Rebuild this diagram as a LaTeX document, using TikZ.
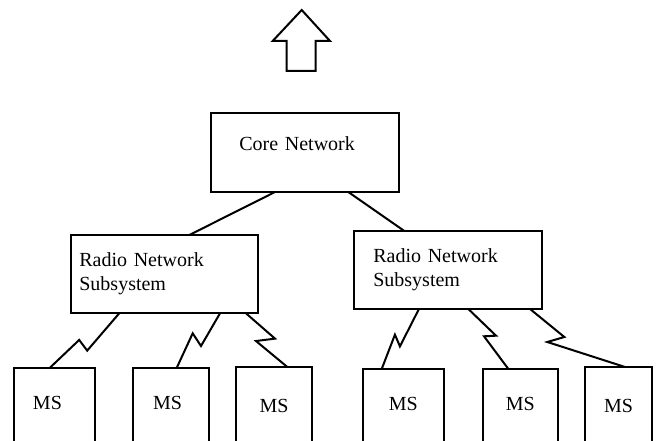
\documentclass[tikz,border=0pt]{standalone}
\usepackage{fontspec}
\setmainfont{Liberation Serif}
\usepackage{tikz}
\usetikzlibrary{positioning}

\begin{document}
\begin{tikzpicture}[x=0.6pt, y=-0.6pt, line width=1.2pt,
  box/.style={draw, rectangle, align=left, outer sep=0pt, anchor=north west,
    font=\fontsize{12}{14.4}\selectfont},
  msbox/.style={box, align=center, minimum height=61.2pt, text height=8pt, text depth=19.9pt}]
  \useasboundingbox (0,0) rectangle (663,441);
  \clip (0,0) rectangle (663,441);

  % arrow going up
  \draw (301.7,10) -- (330,41) -- (315.7,41) -- (315.7,71) -- (286.7,71) -- (286.7,41) -- (272.7,41) -- cycle;

  \node[box, minimum width=112.8pt, minimum height=47.4pt, text width=78.8pt, inner xsep=17pt,
    text height=8pt, text depth=10.4pt] (core) at (211,113) {Core Network};
  \node[box, minimum width=112.2pt, minimum height=47pt, text width=101.8pt, inner xsep=5.2pt] (rnsA) at (70.7,235) {Radio Network\\Subsystem};
  \node[box, minimum width=112.6pt, minimum height=46.8pt, text width=89.4pt, inner xsep=11.6pt] (rnsB) at (354,231) {Radio Network\\Subsystem};

  \node[msbox, minimum width=48.6pt, text width=25.8pt, inner xsep=11.4pt, align=left] (ms1) at (14,368.3) {MS};
  \node[msbox, minimum width=45.6pt, text width=21.6pt, inner xsep=12pt, align=left] (ms2) at (133,368) {MS};
  \node[msbox, minimum width=45.6pt, text depth=15.1pt] (ms3) at (236,367) {MS};
  \node[msbox, minimum width=48.8pt] (ms4) at (362.7,369) {MS};
  \node[msbox, minimum width=45.2pt] (ms5) at (482.7,369) {MS};
  \node[msbox, minimum width=40.2pt, text depth=15.1pt] (ms6) at (585,367) {MS};

  \draw (core.south) ++(-30,0) -- ([xshift=15.1pt]rnsA.north);
  \draw (core.south) ++(43.3,0) -- ([xshift=-26.1pt]rnsB.north);

  % radio links
  \draw (rnsA.south) ++(-45,0) -- ++(-32,37.3) -- ++(-8,-10.7) -- ([xshift=-3.1pt]ms1.north);
  \draw (rnsA.south) ++(55.8,0) -- ++(-19,32.7) -- ++(-8.3,-12.7) -- ([xshift=3.4pt]ms2.north);
  \draw (rnsA.south) ++(81.8,0) -- ++(29,25.3) -- ++(-19,2.4) -- ([xshift=8pt]ms3.north);
  \draw (rnsB.south) ++(-28.9,0) -- ++(-19,37.4) -- ++(-5,-11.7) -- ([xshift=-13pt]ms4.north);
  \draw (rnsB.south) ++(20.5,0) -- ++(27.7,26.7) -- ++(-12,0.6) -- ([xshift=-7.2pt]ms5.north);
  \draw (rnsB.south) ++(82.2,0) -- ++(34.3,28) -- ++(-17,5) -- ([xshift=3.9pt]ms6.north);
\end{tikzpicture}
\end{document}
